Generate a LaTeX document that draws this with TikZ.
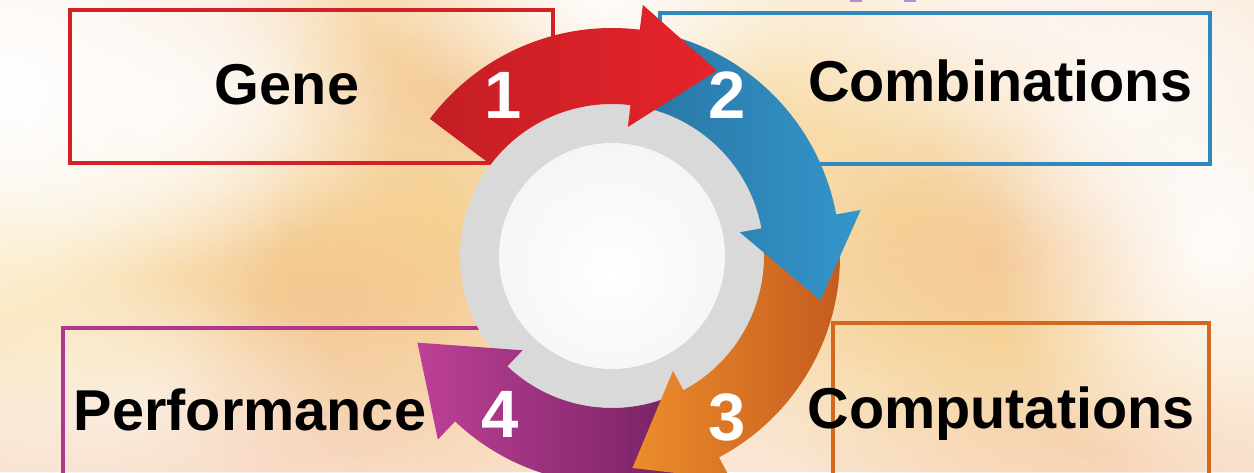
\documentclass[tikz,border=0pt]{standalone}
\usepackage{fontspec}
\setmainfont{Liberation Sans}
\usetikzlibrary{fadings}
\definecolor{bgbase}{HTML}{FAE6D2}
\definecolor{flameY}{HTML}{F6D27C}
\definecolor{flameO}{HTML}{F0A47E}
\definecolor{boxred}{HTML}{D42128}
\definecolor{boxblue}{HTML}{2F88BF}
\definecolor{boxorange}{HTML}{D2691F}
\definecolor{boxpurple}{HTML}{B3368E}
\definecolor{ringgray}{HTML}{D9D9D9}
\definecolor{redA}{HTML}{C41E25}
\definecolor{redB}{HTML}{E6232A}
\definecolor{blueA}{HTML}{2974A3}
\definecolor{blueB}{HTML}{3496CB}
\definecolor{orangeA}{HTML}{EC8D2B}
\definecolor{orangeB}{HTML}{C2581E}
\definecolor{purpleA}{HTML}{BD4097}
\definecolor{purpleB}{HTML}{6B1D5B}
\definecolor{fragpurple}{HTML}{B48DD4}
\definecolor{diskrim}{HTML}{B9B8BD}
\definecolor{diskmid}{HTML}{F6F3F4}
\tikzfading[name=softblob, inner color=transparent!0, outer color=transparent!100]
\pgfdeclareradialshading{innerdisk}{\pgfpoint{0bp}{-4bp}}{color(0bp)=(white); color(30bp)=(diskmid); color(42bp)=(white!88!diskrim); color(48bp)=(white!55!diskrim); color(50bp)=(diskrim); color(51bp)=(diskrim)}
\tikzset{
  blob/.style={path fading=softblob},
  framebox/.style={line width=1.6pt},
  lbl/.style={font=\fontsize{28.8}{30}\selectfont\bfseries, text=black, inner sep=0pt, anchor=base},
  num/.style={font=\fontsize{33.5}{35}\selectfont\bfseries, text=white, inner sep=0pt, anchor=base},
}
\newcommand{\cyclearrow}[3]{% tail angle, head base angle, options
  \shade[#3] (#1:152) -- (#1:228) arc[start angle=#1, end angle=#2, radius=228]
    -- (#2:253) -- ({#2-22.5}:213) -- (#2:130) -- (#2:152)
    arc[start angle=#2, end angle=#1, radius=152] -- cycle;}
\begin{document}
\begin{tikzpicture}[x=0.5pt,y=-0.5pt]
\useasboundingbox (0,0) rectangle (1254,472);
\clip (0,0) rectangle (1254,472);
% background
\fill[bgbase] (0,0) rectangle (1254,472);
\fill[flameY, blob, fill opacity=0.8] (180,270) ellipse [x radius=420, y radius=180];
\fill[flameY, blob, fill opacity=0.6] (440,220) ellipse [x radius=200, y radius=280];
\fill[flameY, blob, fill opacity=0.6] (900,210) ellipse [x radius=260, y radius=220];
\fill[flameY, blob, fill opacity=0.55] (1020,340) ellipse [x radius=340, y radius=170];
\fill[flameY, blob, fill opacity=0.5] (760,60) ellipse [x radius=160, y radius=160];
\fill[flameY, blob, fill opacity=0.6] (30,300) ellipse [x radius=160, y radius=120];
\fill[flameY, blob, fill opacity=0.45] (420,40) ellipse [x radius=200, y radius=120];
\fill[flameO, blob, fill opacity=0.35] (330,300) ellipse [x radius=280, y radius=160];
\fill[flameO, blob, fill opacity=0.3] (1000,260) ellipse [x radius=260, y radius=140];
\fill[flameO, blob, fill opacity=0.3] (450,90) ellipse [x radius=160, y radius=120];
\fill[flameO, blob, fill opacity=0.25] (260,450) ellipse [x radius=400, y radius=100];
\fill[flameO, blob, fill opacity=0.25] (1100,450) ellipse [x radius=300, y radius=100];
\fill[white, blob] (10,90) ellipse [x radius=300, y radius=420];
\fill[white, blob, fill opacity=0.9] (600,0) ellipse [x radius=240, y radius=120];
\fill[white, blob, fill opacity=0.95] (1215,240) ellipse [x radius=220, y radius=260];
\fill[white, blob, fill opacity=0.6] (1000,20) ellipse [x radius=500, y radius=120];
\fill[white, blob, fill opacity=0.8] (160,110) ellipse [x radius=240, y radius=160];
\fill[white, blob, fill opacity=0.6] (1120,110) ellipse [x radius=200, y radius=140];
\fill[white, blob, fill opacity=0.5] (150,400) ellipse [x radius=200, y radius=120];
% cut-off title fragments
\fill[fragpurple] (850,-2) rectangle (862,2);
\fill[fragpurple] (904,-2) rectangle (916,2);
% frames
\draw[framebox, boxred] (70,10) rectangle (553,163);
\draw[framebox, boxblue] (660,13) rectangle (1210,164);
\draw[framebox, boxorange] (833,323) rectangle (1209,520);
\draw[framebox, boxpurple] (63,328) rectangle (600,520);
% ring and centre
\fill[ringgray] (612,256) circle [radius=152];
\shade[shading=innerdisk] (612,256) circle [radius=113];
% arrows
\begin{scope}[shift={(612,256)}, yscale=-1]
\cyclearrow{-62}{-133.5}{left color=purpleA, right color=purpleB}
\cyclearrow{10.5}{-62}{left color=orangeA, right color=orangeB}
\cyclearrow{83}{10.5}{left color=blueA, right color=blueB}
\cyclearrow{143}{83}{left color=redA, right color=redB}
\end{scope}
% labels
\node[lbl] (gene) at (287,104) {Gene};
\node[lbl] (comb) at (1000,101) {Combinations};
\node[lbl] (comp) at (1001,428) {Computations};
\node[lbl] (perf) at (250,430) {Performance};
\node[num] (n1) at (503,118) {1};
\node[num] (n2) at (727,118) {2};
\node[num] (n3) at (727,440) {3};
\node[num] (n4) at (500,437) {4};
\end{tikzpicture}
\end{document}
